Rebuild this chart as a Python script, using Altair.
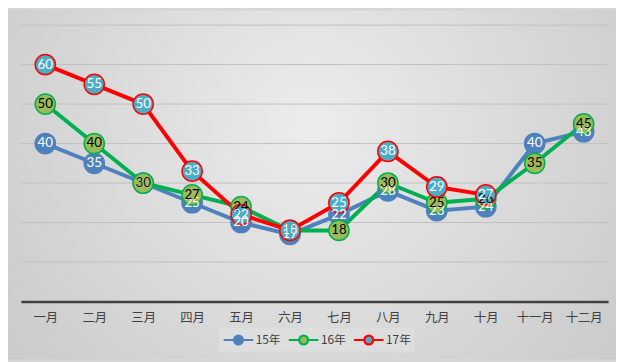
import altair as alt
import pandas as pd

months = ["一月", "二月", "三月", "四月", "五月", "六月", "七月", "八月", "九月", "十月", "十一月", "十二月"]
series_names = ["15年", "16年", "17年"]
values_15 = [40, 35, 30, 25, 20, 17, 22, 28, 23, 24, 40, 43]
values_16 = [50, 40, 30, 27, 24, 18, 18, 30, 25, 26, 35, 45]
values_17 = [60, 55, 50, 33, 22, 18, 25, 38, 29, 27]
grid_values = [10, 20, 30, 40, 50, 60, 70]

rows = []
for name, vals in zip(series_names, [values_15, values_16, values_17]):
    for m, v in zip(months, vals):
        rows.append({"month": m, "series": name, "value": v})
df = pd.DataFrame(rows)

line_colors = ["#4f81bd", "#00b050", "#ff0000"]
marker_fills = ["#4f81bd", "#9bbb59", "#4bacc6"]
label_colors = ["#ffffff", "#000000", "#ffffff"]

W, H = 595, 280
PAD = {"left": 13, "top": 15, "right": 8, "bottom": 59}

x = alt.X("month:N", sort=months, scale=alt.Scale(type="point", padding=0.5),
          axis=alt.Axis(title=None, labelAngle=0, ticks=False, grid=False,
                        domainColor="#404040", domainWidth=2.5, zindex=2,
                        labelFont="Noto Sans CJK SC", labelFontSize=12.5,
                        labelColor="#404040", labelPadding=10))
yscale = alt.Scale(domain=[0, 70], nice=False)
y = alt.Y("value:Q", scale=yscale, axis=None)

stroke_scale = alt.Scale(domain=series_names, range=line_colors)
fill_scale = alt.Scale(domain=series_names, range=marker_fills)

bg = alt.Chart(pd.DataFrame({"a": [0]})).mark_rect(
    fill={"gradient": "radial", "x1": 0.5, "y1": 0.4, "r1": 0,
          "x2": 0.5, "y2": 0.4, "r2": 0.75,
          "stops": [{"offset": 0, "color": "#ececec"},
                    {"offset": 1, "color": "#c4c4c4"}]},
    clip=False
).encode(
    x=alt.value(-PAD["left"]), x2=alt.value(W + PAD["right"]),
    y=alt.value(-PAD["top"]), y2=alt.value(H + PAD["bottom"])
)

gridlines = alt.Chart(pd.DataFrame({"g": grid_values})).mark_rule(
    color="#c0c0c0", strokeWidth=1
).encode(
    y=alt.Y("g:Q", scale=yscale, axis=None),
    x=alt.value(0), x2=alt.value(W),
)

# legend glyph: line segment with a circle marker, extending to the right of the symbol slot
legend_path = ("M-1,0L0.4,0M1.6,0L3,0"
               "M1.6,0A0.6,0.6,0,1,1,0.4,0A0.6,0.6,0,1,1,1.6,0Z")

def make_legend():
    return alt.Legend(title=None, orient="none", legendX=201, legendY=307,
                      direction="horizontal", symbolType=legend_path,
                      symbolSize=225, symbolStrokeWidth=2.2,
                      labelFont="Noto Sans CJK SC", labelFontSize=12,
                      labelColor="#404040", labelOffset=16, columnPadding=3,
                      padding=3, fillColor="#dedede", zindex=2)

base = alt.Chart(df)

lines = base.mark_line(strokeWidth=4).encode(
    x=x, y=y,
    stroke=alt.Stroke("series:N", scale=stroke_scale, legend=make_legend()),
    detail="series:N",
)

points = base.mark_point(filled=True, size=420, strokeWidth=1.5, opacity=1, shape="circle").encode(
    x=x, y=y,
    fill=alt.Fill("series:N", scale=fill_scale, legend=make_legend()),
    stroke=alt.Stroke("series:N", scale=stroke_scale, legend=make_legend()),
)

texts = []
for name, col in zip(series_names, label_colors):
    texts.append(
        base.transform_filter(alt.datum.series == name).mark_text(
            font="Lato", fontSize=13.5, color=col, baseline="middle", align="center"
        ).encode(x=x, y=y, text="value:Q")
    )

chart = alt.layer(bg, gridlines, lines, points, *texts).properties(
    width=W, height=H,
    autosize=alt.AutoSizeParams(type="none"),
    padding=PAD,
).configure(background="#d6d6d6").configure_view(stroke=None)

chart.save("out.html", embed_options={"renderer": "svg", "actions": False})
